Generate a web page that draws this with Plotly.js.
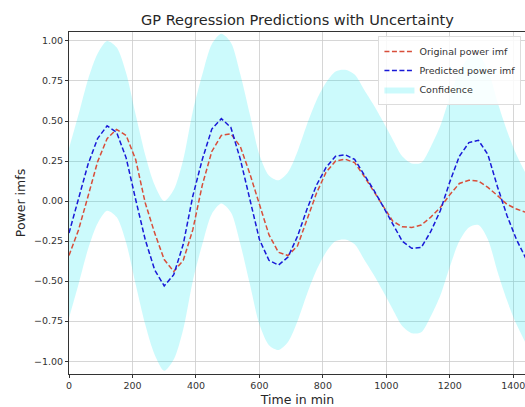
<!DOCTYPE html>
<html>
<head>
<meta charset="utf-8">
<script src="https://cdn.plot.ly/plotly-3.0.1.min.js"></script>
<style>
html, body { margin: 0; padding: 0; overflow: hidden; background: #fff; }
#chart { width: 530px; height: 407px; }
</style>
</head>
<body>
<div id="chart"></div>
<script>
// Time axis (minutes)
const timeMin = [0, 30, 60, 90, 120, 150, 180, 210, 240, 270, 300, 330, 360, 390, 420, 450, 480, 510, 540, 570,
  600, 630, 660, 690, 720, 750, 780, 810, 840, 870, 900, 930, 960, 990, 1020, 1050, 1080, 1110, 1140, 1170,
  1200, 1230, 1260, 1290, 1320, 1350, 1380, 1410, 1440];

// Original power imf (red dashed)
const originalImf = [-0.34, -0.18, 0.03, 0.245, 0.39, 0.448, 0.41, 0.26, -0.01, -0.20, -0.365, -0.44, -0.37, -0.18, 0.10, 0.31, 0.41, 0.42, 0.34, 0.17,
  -0.02, -0.21, -0.32, -0.34, -0.28, -0.11, 0.05, 0.18, 0.25, 0.262, 0.24, 0.155, 0.06, -0.035, -0.125, -0.16, -0.165, -0.15, -0.10, -0.04,
  0.04, 0.11, 0.13, 0.125, 0.085, 0.035, -0.02, -0.05, -0.07];

// Predicted power imf (blue dashed)
const predictedImf = [-0.20, 0.01, 0.23, 0.39, 0.47, 0.43, 0.27, 0.01, -0.24, -0.43, -0.53, -0.46, -0.27, 0.03, 0.26, 0.45, 0.515, 0.46, 0.26, 0.01,
  -0.24, -0.37, -0.40, -0.35, -0.22, -0.05, 0.10, 0.21, 0.28, 0.29, 0.26, 0.165, 0.07, -0.035, -0.145, -0.25, -0.295, -0.29, -0.19, -0.06,
  0.12, 0.28, 0.365, 0.38, 0.29, 0.09, -0.09, -0.24, -0.36];

// Confidence band bounds
const confUpper = [0.33, 0.54, 0.76, 0.92, 1.00, 0.96, 0.80, 0.54, 0.29, 0.10, 0.00, 0.07, 0.26, 0.56, 0.79, 0.98, 1.045, 0.99, 0.79, 0.54,
  0.29, 0.16, 0.13, 0.18, 0.31, 0.48, 0.63, 0.74, 0.81, 0.82, 0.79, 0.695, 0.60, 0.495, 0.385, 0.28, 0.235, 0.24, 0.34, 0.47,
  0.65, 0.81, 0.895, 0.91, 0.82, 0.62, 0.44, 0.29, 0.17];
const confLower = [-0.73, -0.52, -0.30, -0.14, -0.06, -0.10, -0.26, -0.52, -0.77, -0.96, -1.06, -0.99, -0.80, -0.50, -0.27, -0.08, -0.015, -0.07, -0.27, -0.52,
  -0.77, -0.90, -0.93, -0.88, -0.75, -0.58, -0.43, -0.32, -0.25, -0.24, -0.27, -0.365, -0.46, -0.565, -0.675, -0.78, -0.825, -0.82, -0.72, -0.59,
  -0.41, -0.25, -0.165, -0.15, -0.24, -0.44, -0.62, -0.77, -0.89];

const xTicks = [0, 200, 400, 600, 800, 1000, 1200, 1400];
const yTicks = [-1.00, -0.75, -0.50, -0.25, 0.00, 0.25, 0.50, 0.75, 1.00];

const FONT = 'DejaVu Sans, sans-serif';

const traces = [
  {
    x: timeMin, y: confLower, type: 'scatter', mode: 'lines',
    line: { width: 0, shape: 'spline', smoothing: 0.8 },
    showlegend: false, hoverinfo: 'skip', legendgroup: 'conf'
  },
  {
    x: timeMin, y: confUpper, type: 'scatter', mode: 'lines', name: 'Confidence',
    fill: 'tonexty', fillcolor: 'rgba(0,232,240,0.2)',
    line: { width: 0, shape: 'spline', smoothing: 0.8 },
    legendgroup: 'conf', legendrank: 3
  },
  {
    x: timeMin, y: originalImf, type: 'scatter', mode: 'lines', name: 'Original power imf',
    line: { color: 'rgb(216,78,58)', width: 1.5, dash: '5px,2.5px' },
    legendrank: 1
  },
  {
    x: timeMin, y: predictedImf, type: 'scatter', mode: 'lines', name: 'Predicted power imf',
    line: { color: 'rgb(25,25,215)', width: 1.5, dash: '5px,2.5px' },
    legendrank: 2
  }
];

const layout = {
  width: 530, height: 407,
  margin: { l: 69, r: 4, t: 32, b: 33 },
  paper_bgcolor: '#fff', plot_bgcolor: '#fff',
  font: { family: FONT, color: '#262626' },
  title: {
    text: 'GP Regression Predictions with Uncertainty',
    font: { family: FONT, size: 14.5, color: '#262626' },
    x: 0.5, xref: 'paper', xanchor: 'center',
    y: 0.952, yref: 'container', yanchor: 'middle'
  },
  xaxis: {
    range: [0, 1440],
    tickvals: xTicks, ticktext: xTicks.map(v => String(v)),
    ticks: 'outside', ticklen: 3, tickcolor: '#333', tickwidth: 1,
    tickfont: { family: FONT, size: 9.5, color: '#333' },
    showgrid: true, gridcolor: '#cccccc', gridwidth: 0.8,
    zeroline: false,
    showline: true, linecolor: '#333', linewidth: 1, mirror: true,
    title: { text: 'Time in min', font: { family: FONT, size: 12.5, color: '#262626' }, standoff: 5 },
    automargin: false
  },
  yaxis: {
    range: [-1.08, 1.056],
    tickvals: yTicks, ticktext: yTicks.map(v => (v < 0 ? '\u2212' : '') + Math.abs(v).toFixed(2)),
    ticks: 'outside', ticklen: 3, tickcolor: '#333', tickwidth: 1,
    tickfont: { family: FONT, size: 9.5, color: '#333' },
    showgrid: true, gridcolor: '#cccccc', gridwidth: 0.8,
    zeroline: false,
    showline: true, linecolor: '#333', linewidth: 1, mirror: true,
    title: { text: 'Power imfs', font: { family: FONT, size: 12.5, color: '#262626' }, standoff: 5 },
    automargin: false
  },
  legend: {
    x: 0.99, xanchor: 'right', y: 0.988, yanchor: 'top',
    bgcolor: 'rgba(255,255,255,0.85)', bordercolor: '#dddddd', borderwidth: 1,
    font: { family: FONT, size: 9.5, color: '#333' },
    tracegroupgap: 0, itemwidth: 30
  },
  showlegend: true
};

Plotly.newPlot('chart', traces, layout, { displayModeBar: false, staticPlot: true });
</script>
</body>
</html>
